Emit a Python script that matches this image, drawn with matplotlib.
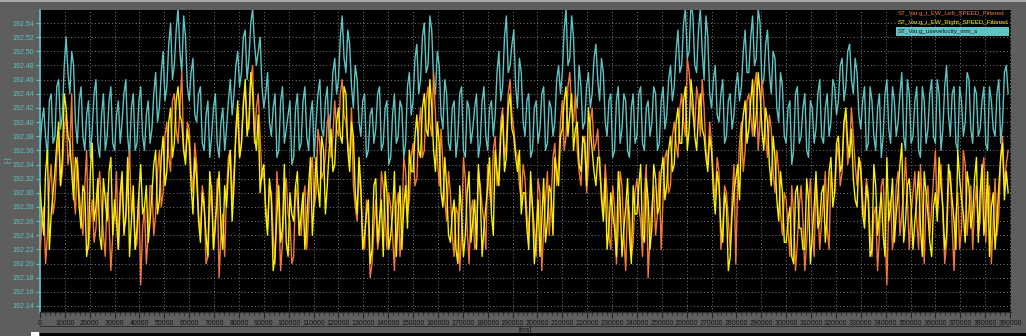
import numpy as np
import matplotlib
matplotlib.use("Agg")
import matplotlib.pyplot as plt
from matplotlib.ticker import MultipleLocator, FixedLocator

# sample spacing of the traces (ms); "a" samples at k*step, "b" samples half a step later
step_ms = 1500

# values as hundredths above 192.00
left_speed_a = [
    21, 28, 24, 34, 29, 38, 33, 41, 36, 30, 35, 27, 31, 22, 29, 25, 33, 24, 30, 19,
    27, 22, 32, 26, 36, 29, 23, 17, 28, 24, 31, 27, 36, 30, 40, 33, 44, 37, 47, 35,
    39, 30, 34, 24, 29, 21, 31, 25, 18, 27, 30, 36, 33, 41, 37, 45, 39, 48, 42, 38,
    33, 25, 30, 20, 28, 23, 32, 26, 21, 29, 24, 31, 27, 35, 30, 37, 33, 40, 35, 43,
    38, 46, 40, 35, 31, 26, 30, 22, 27, 20, 29, 24, 31, 22, 28, 19, 30, 25, 33, 29,
    37, 32, 42, 36, 45, 38, 41, 31, 34, 26, 30, 21, 27, 24, 32, 20, 29, 23, 31, 26,
    34, 28, 38, 33, 42, 37, 46, 39, 35, 29, 32, 24, 28, 21, 30, 25, 33, 29, 37, 34,
    43, 38, 47, 40, 36, 31, 38, 34, 42, 37, 33, 27, 30, 22, 28, 25, 31, 19, 27, 23,
    32, 26, 30, 18, 28, 24, 33, 29, 36, 31, 40, 35, 44, 38, 47, 41, 45, 38, 42, 34,
    37, 29, 33, 25, 30, 22, 34, 31, 40, 36, 44, 38, 47, 40, 43, 35, 39, 30, 33, 24,
    29, 21, 27, 23, 31, 19, 28, 25, 32, 22, 29, 25, 33, 30, 37, 33, 41, 36, 38, 31,
    34, 26, 30, 21, 28, 24, 32, 17, 29, 25, 33, 27, 35, 22, 30, 26, 34, 20, 31, 28,
    36, 30, 27, 23, 33, 19, 30, 25, 34, 28, 22, 31, 26, 35, 29, 20, 32, 27, 38, 34,
]
left_speed_b = [
    26, 20, 31, 27, 35, 31, 39, 34, 44, 27, 30, 24, 36, 26, 23, 30, 28, 21, 26, 24,
    33, 28, 25, 31, 27, 22, 30, 25, 20, 31, 24, 33, 28, 38, 35, 43, 39, 42, 36, 40,
    33, 37, 27, 31, 20, 28, 22, 32, 24, 21, 35, 29, 38, 35, 43, 40, 46, 37, 44, 32,
    28, 31, 24, 33, 19, 30, 27, 20, 31, 24, 29, 22, 33, 28, 39, 32, 35, 41, 38, 39,
    44, 41, 37, 42, 28, 33, 24, 29, 18, 25, 22, 33, 27, 30, 24, 28, 21, 35, 27, 35,
    31, 39, 35, 43, 40, 47, 35, 39, 29, 33, 24, 28, 19, 35, 25, 27, 22, 33, 28, 22,
    30, 36, 31, 40, 35, 44, 41, 36, 31, 34, 27, 31, 25, 32, 19, 29, 24, 35, 31, 40,
    36, 45, 42, 44, 33, 37, 30, 40, 36, 39, 30, 34, 24, 31, 20, 33, 24, 29, 21, 30,
    28, 21, 34, 24, 31, 27, 22, 35, 30, 38, 37, 42, 40, 49, 43, 39, 43, 46, 36, 40,
    32, 35, 22, 31, 26, 29, 20, 37, 33, 43, 41, 45, 36, 46, 38, 41, 33, 36, 27, 30,
    25, 31, 19, 28, 26, 23, 32, 21, 28, 26, 33, 22, 30, 35, 31, 40, 34, 42, 34, 35,
    29, 32, 24, 27, 19, 31, 25, 28, 22, 31, 24, 30, 29, 27, 33, 22, 28, 29, 24, 32,
    27, 34, 20, 31, 25, 27, 22, 36, 24, 31, 28, 24, 33, 23, 31, 26, 24, 35, 31, 36,
]

right_speed_a = [
    31, 24, 36, 27, 33, 40, 35, 42, 37, 29, 34, 25, 30, 23, 37, 28, 24, 32, 26, 35,
    29, 22, 33, 27, 21, 31, 25, 34, 28, 23, 30, 36, 29, 38, 33, 42, 37, 45, 40, 34,
    37, 27, 32, 23, 28, 21, 30, 26, 33, 22, 28, 36, 31, 43, 37, 46, 40, 44, 36, 30,
    34, 24, 29, 21, 31, 25, 23, 30, 26, 33, 27, 22, 31, 24, 35, 28, 36, 31, 39, 34,
    42, 37, 44, 33, 38, 27, 31, 24, 29, 22, 32, 26, 21, 30, 24, 33, 27, 22, 31, 36,
    33, 41, 35, 44, 38, 42, 33, 37, 28, 31, 23, 29, 20, 27, 24, 33, 26, 22, 30, 25,
    31, 27, 36, 31, 41, 35, 44, 38, 33, 27, 30, 22, 28, 24, 21, 32, 26, 30, 35, 31,
    39, 45, 41, 36, 40, 33, 37, 42, 36, 31, 35, 26, 22, 30, 25, 33, 21, 28, 24, 31,
    27, 34, 23, 29, 25, 32, 28, 35, 31, 38, 34, 42, 37, 45, 39, 43, 36, 44, 38, 33,
    36, 27, 31, 23, 28, 21, 30, 34, 38, 43, 39, 46, 41, 44, 36, 40, 31, 35, 26, 30,
    23, 28, 20, 31, 25, 22, 29, 24, 33, 26, 31, 27, 35, 30, 38, 34, 42, 35, 32, 28,
    33, 25, 29, 22, 31, 27, 24, 35, 28, 23, 30, 37, 26, 32, 22, 29, 25, 33, 27, 21,
    30, 35, 28, 24, 32, 26, 36, 29, 23, 31, 27, 35, 30, 24, 33, 28, 22, 31, 37, 33,
]
right_speed_b = [
    27, 33, 22, 30, 37, 31, 44, 38, 33, 35, 28, 31, 21, 33, 26, 32, 22, 29, 33, 24,
    26, 30, 24, 35, 26, 22, 30, 27, 31, 26, 34, 27, 35, 31, 40, 35, 43, 41, 36, 39,
    31, 35, 26, 30, 24, 33, 22, 29, 25, 31, 33, 26, 39, 35, 42, 38, 47, 38, 41, 33,
    27, 32, 19, 27, 23, 34, 21, 27, 31, 24, 30, 26, 35, 29, 31, 38, 27, 36, 33, 40,
    38, 45, 36, 40, 30, 35, 22, 27, 20, 31, 23, 29, 33, 22, 27, 21, 31, 28, 25, 33,
    38, 36, 42, 39, 46, 36, 40, 30, 35, 24, 27, 22, 31, 21, 30, 23, 29, 34, 21, 28,
    35, 24, 33, 38, 33, 42, 39, 35, 36, 30, 25, 33, 20, 29, 26, 23, 31, 24, 33, 38,
    43, 38, 44, 39, 34, 38, 31, 39, 33, 35, 29, 32, 25, 27, 21, 29, 25, 32, 20, 27,
    31, 24, 32, 22, 34, 27, 33, 29, 36, 33, 40, 37, 43, 36, 46, 38, 41, 39, 35, 38,
    30, 33, 25, 30, 19, 27, 32, 29, 41, 37, 43, 38, 47, 39, 42, 34, 38, 29, 33, 23,
    26, 21, 30, 25, 22, 32, 20, 28, 25, 30, 23, 33, 28, 37, 33, 40, 37, 39, 29, 35,
    27, 31, 21, 34, 24, 30, 21, 26, 32, 27, 34, 23, 31, 28, 26, 33, 21, 30, 23, 28,
    26, 31, 22, 34, 29, 22, 32, 27, 33, 25, 32, 23, 34, 27, 21, 30, 26, 35, 29, 30,
]

velocity_a = [
    36, 42, 35, 44, 38, 46, 41, 52, 44, 48, 37, 45, 36, 43, 39, 46, 35, 44, 38, 45,
    36, 43, 40, 46, 35, 44, 37, 45, 36, 43, 39, 47, 42, 50, 45, 54, 48, 56, 47, 52,
    43, 49, 40, 45, 36, 43, 38, 44, 35, 42, 39, 46, 44, 50, 47, 53, 49, 56, 48, 52,
    42, 47, 38, 44, 36, 45, 39, 43, 35, 44, 37, 45, 36, 43, 40, 46, 38, 45, 42, 49,
    46, 55, 47, 51, 42, 46, 38, 44, 36, 42, 39, 45, 37, 43, 35, 44, 38, 42, 37, 47,
    43, 51, 46, 54, 48, 53, 44, 48, 39, 44, 36, 43, 38, 45, 35, 42, 39, 44, 37, 45,
    36, 43, 41, 50, 45, 55, 48, 53, 42, 47, 38, 44, 36, 43, 39, 45, 37, 42, 40, 48,
    47, 56, 49, 52, 42, 45, 40, 47, 44, 51, 43, 47, 38, 44, 36, 45, 39, 43, 35, 44,
    38, 45, 36, 43, 40, 44, 37, 45, 41, 48, 45, 53, 48, 56, 50, 55, 47, 56, 46, 52,
    42, 48, 40, 46, 38, 44, 41, 47, 45, 53, 47, 55, 49, 54, 46, 53, 44, 49, 40, 45,
    37, 43, 36, 45, 38, 44, 35, 42, 39, 46, 37, 44, 40, 45, 43, 49, 45, 51, 44, 47,
    39, 45, 37, 43, 36, 44, 38, 46, 37, 43, 40, 47, 36, 44, 38, 45, 35, 43, 39, 46,
    37, 44, 39, 48, 38, 45, 36, 43, 40, 46, 37, 44, 39, 45, 36, 43, 38, 46, 40, 48,
]
velocity_b = [
    40, 38, 43, 37, 45, 39, 48, 47, 50, 40, 43, 38, 41, 35, 44, 37, 41, 36, 43, 37,
    41, 37, 44, 38, 42, 36, 43, 38, 41, 37, 44, 40, 47, 43, 51, 46, 53, 50, 55, 45,
    47, 41, 44, 37, 41, 35, 42, 37, 40, 36, 43, 41, 48, 45, 52, 46, 54, 51, 50, 45,
    44, 40, 42, 35, 43, 37, 41, 34, 42, 36, 43, 38, 41, 35, 44, 39, 43, 37, 47, 44,
    52, 49, 53, 45, 48, 40, 43, 35, 41, 37, 44, 36, 42, 34, 41, 37, 43, 35, 45, 41,
    49, 44, 52, 47, 55, 46, 50, 41, 46, 37, 42, 35, 44, 36, 43, 37, 42, 35, 43, 38,
    42, 38, 47, 43, 52, 47, 51, 45, 49, 40, 43, 35, 42, 37, 44, 36, 43, 38, 46, 44,
    53, 48, 55, 44, 48, 39, 45, 42, 49, 46, 49, 40, 43, 35, 43, 37, 44, 36, 42, 37,
    44, 37, 42, 38, 45, 36, 43, 39, 46, 43, 50, 47, 54, 49, 57, 48, 53, 50, 55, 44,
    46, 41, 44, 37, 43, 39, 45, 43, 50, 47, 52, 48, 56, 45, 51, 47, 50, 42, 47, 38,
    42, 34, 44, 37, 42, 36, 43, 37, 44, 38, 42, 38, 46, 41, 48, 43, 50, 46, 49, 41,
    43, 36, 45, 38, 42, 35, 44, 39, 45, 38, 44, 38, 46, 37, 43, 36, 45, 37, 44, 38,
    46, 36, 45, 41, 44, 37, 45, 38, 47, 39, 45, 38, 43, 37, 45, 39, 44, 37, 47, 44,
]

series_names = [
    "ST_Var.g_i_EW_Left_SPEED_Filtered",
    "ST_Var.g_i_EW_Right_SPEED_Filtered",
    "ST_Var.g_usevelocity_mm_s",
]
y_ticks = [192.14, 192.16, 192.18, 192.20, 192.22, 192.24, 192.26, 192.28,
           192.30, 192.32, 192.34, 192.36, 192.38, 192.40, 192.42, 192.44,
           192.46, 192.48, 192.50, 192.52, 192.54]
x_ticks = list(range(0, 390001, 10000))


def merge(a, b):
    a = np.asarray(a, float)
    b = np.asarray(b, float)
    tt = np.empty(a.size + b.size)
    vv = np.empty(a.size + b.size)
    tt[0::2] = np.arange(a.size) * step_ms
    tt[1::2] = np.arange(b.size) * step_ms + step_ms / 2
    vv[0::2] = a
    vv[1::2] = b
    return tt, 192.0 + vv / 100.0


t_l, left_speed = merge(left_speed_a, left_speed_b)
t_r, right_speed = merge(right_speed_a, right_speed_b)
t_v, velocity = merge(velocity_a, velocity_b)

BG = "#5e5e5e"
CYAN = "#5fc3c3"
ORANGE = "#f47a3a"
YELLOW = "#f6f200"

plt.rcParams["font.family"] = ["Liberation Sans", "DejaVu Sans"]

fig = plt.figure(figsize=(10.26, 3.36), dpi=100, facecolor=BG)
ax = fig.add_axes([40 / 1026, 1 - 312 / 336, 971 / 1026, 302 / 336])
ax.set_facecolor("black")

ax.plot(t_v, velocity, color=CYAN, lw=1.0, zorder=2)
ax.plot(t_l, left_speed, color=ORANGE, lw=1.0, zorder=3)
ax.plot(t_r, right_speed, color=YELLOW, lw=1.0, zorder=4)

ax.set_xlim(0, 390400)
ax.set_ylim(192.1315, 192.5584)
ax.yaxis.set_major_locator(FixedLocator(y_ticks))
ax.set_yticklabels(["%.2f" % v for v in y_ticks])
ax.xaxis.set_major_locator(FixedLocator(x_ticks))
ax.set_xticklabels([str(v) for v in x_ticks])
ax.xaxis.set_minor_locator(MultipleLocator(2000))

ax.grid(True, which="major", color="#808080", linestyle=(0, (1, 2.5)), linewidth=0.7)
ax.tick_params(axis="y", colors=CYAN, labelsize=5, length=3, width=0.8, pad=1)
ax.tick_params(axis="x", which="major", colors="#202020", labelcolor="#141414",
               labelsize=5, length=4, width=0.7, pad=2)
ax.tick_params(axis="x", which="minor", colors="#202020", length=2, width=0.6)
for lbl in ax.get_yticklabels():
    lbl.set_color(CYAN)

for s in ["top", "right"]:
    ax.spines[s].set_visible(False)
ax.spines["left"].set_color(CYAN)
ax.spines["left"].set_linewidth(1.2)
ax.spines["bottom"].set_color("#2a2a2a")
ax.spines["bottom"].set_linewidth(0.8)

fig.text(8 / 1026, 1 - 160 / 336, "[-]", color=CYAN, fontsize=5.5, rotation=90,
         ha="center", va="center")
fig.text(525 / 1026, 1 - 330 / 336, "[ms]", color="#141414", fontsize=5,
         ha="center", va="center")

# legend entries (top right, inside plot)
leg_x = (898 - 40) / 971
ax.add_patch(plt.Rectangle((leg_x - 0.002, 0.914), 1.0 - leg_x, 0.031,
                           transform=ax.transAxes, facecolor=CYAN, edgecolor="none",
                           zorder=6))
ax.text(leg_x, 0.987, series_names[0], transform=ax.transAxes, color=ORANGE,
        fontsize=4.5, va="center", ha="left", zorder=7)
ax.text(leg_x, 0.957, series_names[1], transform=ax.transAxes, color=YELLOW,
        fontsize=4.5, va="center", ha="left", zorder=7)
ax.text(leg_x, 0.929, series_names[2], transform=ax.transAxes, color="#1a1a1a",
        fontsize=4.5, va="center", ha="left", zorder=7)

# window chrome: top highlight, separator line and bottom strip
fig.patches.append(plt.Rectangle((0, 1 - 2 / 336), 1, 2 / 336, transform=fig.transFigure,
                                 facecolor="#a8a8a8", edgecolor="none"))
fig.patches.append(plt.Rectangle((40 / 1026, 1 - 327 / 336), 971 / 1026, 1 / 336,
                                 transform=fig.transFigure, facecolor="#2e2e2e",
                                 edgecolor="none"))
fig.patches.append(plt.Rectangle((40 / 1026, 0), 1 - 40 / 1026, 3 / 336,
                                 transform=fig.transFigure, facecolor="black", edgecolor="none"))
fig.patches.append(plt.Rectangle((31 / 1026, 0), 8 / 1026, 4 / 336,
                                 transform=fig.transFigure, facecolor="white", edgecolor="none"))

fig.savefig("out.png", dpi=100, facecolor=BG)
